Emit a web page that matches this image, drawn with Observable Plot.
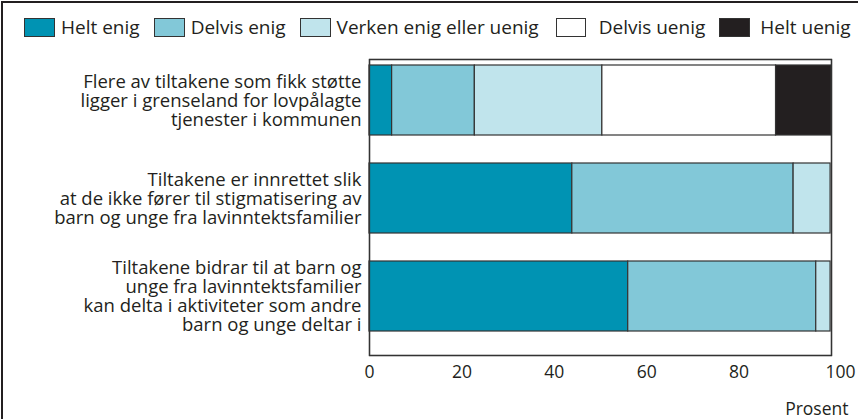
<!DOCTYPE html>
<html>
<head>
<meta charset="utf-8">
<script src="https://cdn.jsdelivr.net/npm/d3@7"></script>
<script src="https://cdn.jsdelivr.net/npm/@observablehq/plot@0.6"></script>
<style>
  html, body { margin: 0; padding: 0; background: #fff; }
  body { font-family: "Open Sans", sans-serif; color: #231f20; }
  #wrap { position: relative; width: 858px; height: 419px; overflow: hidden; }
  #border { position: absolute; left: 1px; top: 1px; width: 900px; height: 460px;
            border-left: 2px solid #231f20; border-top: 2px solid #231f20; }
  #chart { position: absolute; left: 0; top: 0; }
  #legend { position: absolute; left: 24px; top: 17px; display: flex; align-items: center;
            font-size: 19px; line-height: 20px; white-space: nowrap; }
  .item { display: flex; align-items: center; margin-right: 14px; }
  .sw { box-sizing: border-box; width: 31px; height: 19px; border: 1px solid #333; margin-right: 6px; }
  .item:nth-child(3) { margin-right: 17px; }
  .item:nth-child(4) .sw { width: 30px; margin-right: 13px; }
  .item:nth-child(5) .sw { margin-right: 10px; }
</style>
</head>
<body>
<div id="wrap">
  <div id="border"></div>
  <div id="chart"></div>
  <div id="legend"></div>
</div>
<script>
// ---- data ----
const categories = [
  "Flere av tiltakene som fikk støtte\nligger i grenseland for lovpålagte\ntjenester i kommunen",
  "Tiltakene er innrettet slik\nat de ikke fører til stigmatisering av\nbarn og unge fra lavinntektsfamilier",
  "Tiltakene bidrar til at barn og\nunge fra lavinntektsfamilier\nkan delta i aktiviteter som andre\nbarn og unge deltar i"
];
const responses = ["Helt enig", "Delvis enig", "Verken enig eller uenig", "Delvis uenig", "Helt uenig"];
const colors = ["#0093b3", "#82c8d8", "#c0e4ec", "#ffffff", "#231f20"];
const heltEnig    = [4.9, 43.9, 56.0];
const delvisEnig  = [17.9, 47.9, 40.7];
const verken      = [27.6, 8.0, 3.1];
const delvisUenig = [37.6, 0, 0];
const heltUenig   = [12.0, 0, 0];
const xTicks = [0, 20, 40, 60, 80, 100];
const xLabel = "Prosent";

const series = [heltEnig, delvisEnig, verken, delvisUenig, heltUenig];
const rows = [];
categories.forEach((c, i) => series.forEach((s, j) => {
  if (s[i] > 0) rows.push({cat: c, resp: responses[j], value: s[i]});
}));

const font = '"Open Sans", sans-serif';
const chart = Plot.plot({
  width: 858, height: 419,
  marginTop: 59, marginBottom: 64, marginLeft: 369, marginRight: 27,
  style: {fontFamily: font, background: "transparent", color: "#231f20"},
  x: {domain: [0, 100]},
  y: {domain: categories, paddingInner: 0.29, paddingOuter: 0.14, align: 0.21},
  color: {domain: responses, range: colors},
  marks: [
    Plot.frame({fill: "#fff", stroke: "#333", strokeWidth: 1.3}),
    Plot.barX(rows, Plot.stackX({x: "value", y: "cat", fill: "resp", order: responses,
      stroke: "#333", strokeWidth: 1.2})),
    Plot.frame({stroke: "#333", strokeWidth: 1.3}),
    Plot.axisY({tickSize: 0, tickPadding: 8, fontSize: 18.5, lineHeight: 1.03, textAnchor: "end",
      fill: "#231f20", label: null}),
    Plot.axisX({ticks: xTicks.filter(t => t < 100), tickSize: 0, tickPadding: 10, fontSize: 17.5, fill: "#231f20", label: null}),
    Plot.axisX({ticks: xTicks.filter(t => t === 100), tickSize: 0, tickPadding: 10, fontSize: 17.5, fill: "#231f20",
      textAnchor: "start", dx: -6, label: null}),
    Plot.text([xLabel], {text: d => d, frameAnchor: "bottom-right", textAnchor: "end", lineAnchor: "middle",
      dx: 17, dy: 54, fontSize: 17.5, fill: "#231f20"})
  ]
});
document.getElementById("chart").appendChild(chart);

const legend = document.getElementById("legend");
responses.forEach((r, i) => {
  const it = document.createElement("div");
  it.className = "item";
  const sw = document.createElement("div");
  sw.className = "sw";
  sw.style.background = colors[i];
  const t = document.createElement("span");
  t.textContent = r;
  it.appendChild(sw); it.appendChild(t);
  legend.appendChild(it);
});
</script>
</body>
</html>
